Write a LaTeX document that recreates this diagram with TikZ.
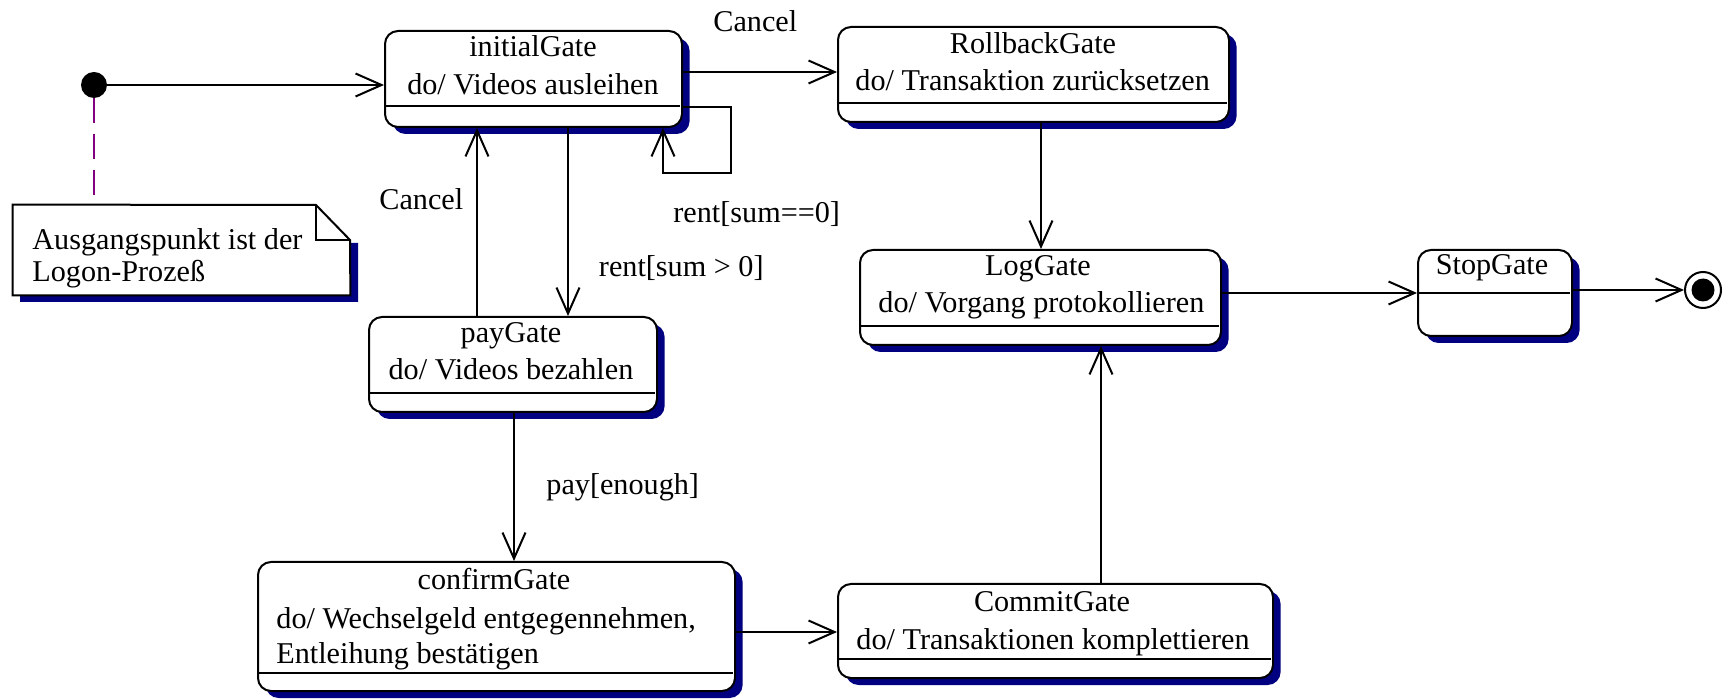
\documentclass[tikz,border=0pt]{standalone}
\usepackage{fontspec}
\setmainfont{Liberation Serif}
\usetikzlibrary{arrows.meta,shadows,fit,calc}
\definecolor{shadownavy}{RGB}{0,0,128}
\definecolor{notepurple}{RGB}{128,0,128}
\begin{document}
\begin{tikzpicture}[x=0.5pt,y=-0.5pt,
  every node/.style={font=\fontsize{15.1}{19}\selectfont, inner sep=0pt},
  statebox/.style={draw, fill=white, line width=1pt, rounded corners=6.5pt, inner sep=0pt,
    drop shadow={shadow xshift=3.8pt, shadow yshift=-3.5pt, fill=shadownavy, opacity=1}},
  txt/.style={anchor=base},
  ltxt/.style={anchor=base west},
  tr/.style={line width=1pt, -{Straight Barb[length=13pt,width=11.5pt]}},
  divider/.style={line width=1pt}]
\useasboundingbox (0,0) rectangle (1729,699);

% states
\node[statebox, fit={(385,31) (682,127)}] (ig) {};
\node[txt] (igT) at (533,57) {initialGate};
\node[txt] (igD) at (533,95) {do/ Videos ausleihen};
\draw[divider] (ig.west |- 0,106) -- ($(ig.east |- 0,106)+(-3,0)$);

\node[statebox, fit={(838,27) (1229,122)}] (rb) {};
\node[txt] (rbT) at (1033,54) {RollbackGate};
\node[ltxt] (rbD) at (855,91) {do/ Transaktion zurücksetzen};
\draw[divider] (rb.west |- 0,103) -- ($(rb.east |- 0,103)+(-3,0)$);

\node[statebox, fit={(860,250) (1221,345)}] (lg) {};
\node[txt] (lgT) at (1038,276) {LogGate};
\node[ltxt] (lgD) at (878,313) {do/ Vorgang protokollieren};
\draw[divider] (lg.west |- 0,326) -- ($(lg.east |- 0,326)+(-3,0)$);

\node[statebox, fit={(1418,250) (1572,336)}] (sg) {};
\node[txt] (sgT) at (1492,275) {StopGate};
\draw[divider] (sg.west |- 0,293) -- ($(sg.east |- 0,293)+(-3,0)$);

\node[statebox, fit={(369,317) (657,412)}] (pg) {};
\node[txt] (pgT) at (511,343) {payGate};
\node[txt] (pgD) at (511,380) {do/ Videos bezahlen};
\draw[divider] (pg.west |- 0,393) -- ($(pg.east |- 0,393)+(-3,0)$);

\node[statebox, fit={(258,562) (735,691)}] (cf) {};
\node[txt] (cfT) at (494,589) {confirmGate};
\node[ltxt] (cfD1) at (276,628) {do/ Wechselgeld entgegennehmen,};
\node[ltxt] (cfD2) at (276,663) {Entleihung bestätigen};
\draw[divider] (cf.west |- 0,673) -- ($(cf.east |- 0,673)+(-3,0)$);

\node[statebox, fit={(838,584) (1273,678)}] (cm) {};
\node[txt] (cmT) at (1052,611) {CommitGate};
\node[txt] (cmD) at (1053,649) {do/ Transaktionen komplettieren};
\draw[divider] (cm.west |- 0,659) -- ($(cm.east |- 0,659)+(-3,0)$);

% initial and final
\node[circle, fill=black, minimum size=13pt] (init) at (94,85) {};
\node[circle, draw, line width=1pt, fill=white, minimum size=18pt] (final) at (1703,290) {};
\node[circle, fill=black, minimum size=11.5pt] (finaldot) at (1703,290) {};

% note
\node[fit={(13,205) (350,295)}] (note) {};
\fill[shadownavy] (350,243) -- (358,243) -- (358,302) -- (20,302) -- (20,295) -- (350,295) -- cycle;
\draw[line width=1pt, fill=white] (note.north west) -- (316,205) -- (350,240) -- (note.south east) -- (note.south west) -- cycle;
\draw[line width=1pt] (316,205) -- (316,240) -- (350,240);
\node[ltxt] (noteA) at (32,250) {Ausgangspunkt ist der};
\node[ltxt] (noteB) at (32,282) {Logon-Prozeß};
\draw[notepurple, line width=1pt, dash pattern=on 12.5pt off 5.5pt] (init) -- (init |- note.north);

% transitions
\draw[tr] (init) -- (init -| ig.west);
\draw[tr] (ig.east |- 0,72) -- (rb.west |- 0,72);
\draw[tr] (ig.south -| 568,0) -- (pg.north -| 568,0);
\draw[tr] (pg.north -| 477,0) -- (ig.south -| 477,0);
\draw[tr] (ig.east |- 0,107) -| (731,173) -| (ig.south -| 663,0);
\draw[tr] (pg.south -| 514,0) -- (cf.north -| 514,0);
\draw[tr] (cf.east |- 0,632) -- (cm.west |- 0,632);
\draw[tr] (cm.north -| 1101,0) -- (lg.south -| 1101,0);
\draw[tr] (rb.south -| 1041,0) -- (lg.north -| 1041,0);
\draw[tr] (lg.east |- 0,293) -- (sg.west |- 0,293);
\draw[tr] (sg.east |- 0,290) -- (final);

% labels
\node[ltxt] (lCancelA) at (713,32) {Cancel};
\node[ltxt] (lCancelB) at (379,210) {Cancel};
\node[ltxt] (lRentZero) at (673,223) {rent[sum==0]};
\node[anchor=base east] (lRentPos) at (764,277) {rent[sum > 0]};
\node[ltxt] (lPay) at (546,495) {pay[enough]};
\end{tikzpicture}
\end{document}
